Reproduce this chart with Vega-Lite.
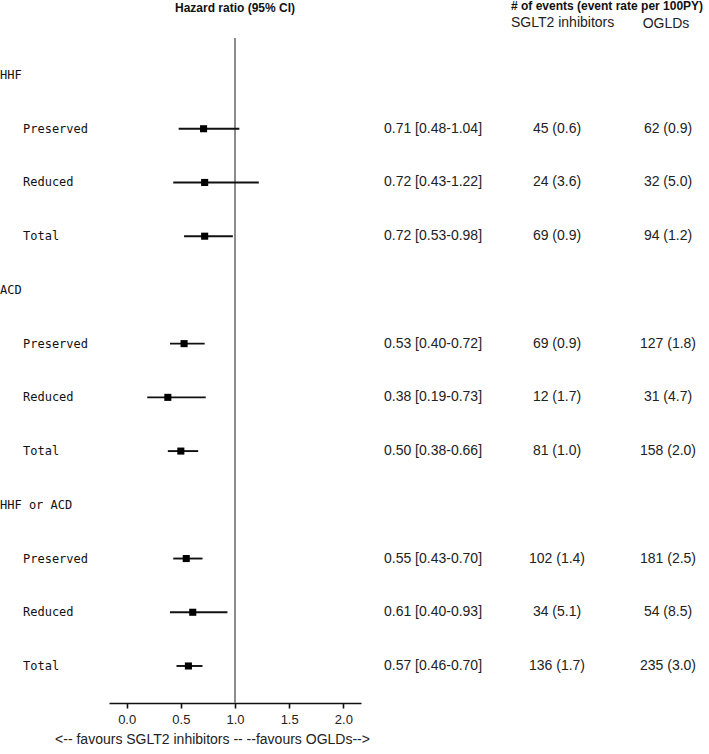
{
  "$schema": "https://vega.github.io/schema/vega-lite/v6.json",
  "background": "white",
  "padding": {"top": 0, "left": 0, "right": 0, "bottom": 2},
  "spacing": 0,
  "bounds": "flush",
  "config": {"view": {"stroke": null}, "font": "Liberation Sans"},
  "datasets": {
    "rows": [
      {"row": 0, "label": "HHF", "level": "group"},
      {"row": 1, "label": "Preserved", "level": "sub", "hr": 0.71, "lo": 0.48, "hi": 1.04, "ci": "0.71 [0.48-1.04]", "sglt2": "45 (0.6)", "ogld": "62 (0.9)"},
      {"row": 2, "label": "Reduced", "level": "sub", "hr": 0.72, "lo": 0.43, "hi": 1.22, "ci": "0.72 [0.43-1.22]", "sglt2": "24 (3.6)", "ogld": "32 (5.0)"},
      {"row": 3, "label": "Total", "level": "sub", "hr": 0.72, "lo": 0.53, "hi": 0.98, "ci": "0.72 [0.53-0.98]", "sglt2": "69 (0.9)", "ogld": "94 (1.2)"},
      {"row": 4, "label": "ACD", "level": "group"},
      {"row": 5, "label": "Preserved", "level": "sub", "hr": 0.53, "lo": 0.40, "hi": 0.72, "ci": "0.53 [0.40-0.72]", "sglt2": "69 (0.9)", "ogld": "127 (1.8)"},
      {"row": 6, "label": "Reduced", "level": "sub", "hr": 0.38, "lo": 0.19, "hi": 0.73, "ci": "0.38 [0.19-0.73]", "sglt2": "12 (1.7)", "ogld": "31 (4.7)"},
      {"row": 7, "label": "Total", "level": "sub", "hr": 0.50, "lo": 0.38, "hi": 0.66, "ci": "0.50 [0.38-0.66]", "sglt2": "81 (1.0)", "ogld": "158 (2.0)"},
      {"row": 8, "label": "HHF or ACD", "level": "group"},
      {"row": 9, "label": "Preserved", "level": "sub", "hr": 0.55, "lo": 0.43, "hi": 0.70, "ci": "0.55 [0.43-0.70]", "sglt2": "102 (1.4)", "ogld": "181 (2.5)"},
      {"row": 10, "label": "Reduced", "level": "sub", "hr": 0.61, "lo": 0.40, "hi": 0.93, "ci": "0.61 [0.40-0.93]", "sglt2": "34 (5.1)", "ogld": "54 (8.5)"},
      {"row": 11, "label": "Total", "level": "sub", "hr": 0.57, "lo": 0.46, "hi": 0.70, "ci": "0.57 [0.46-0.70]", "sglt2": "136 (1.7)", "ogld": "235 (3.0)"}
    ]
  },
  "hconcat": [
    {
      "width": 109,
      "height": 665,
      "data": {"name": "rows"},
      "mark": {"type": "text", "align": "left", "baseline": "middle", "font": "DejaVu Sans Mono", "fontSize": 12, "color": "#111"},
      "encoding": {
        "x": {"field": "level", "type": "nominal", "scale": {"type": "point", "domain": ["group", "sub"], "range": [0, 23], "padding": 0}, "axis": null},
        "y": {"field": "row", "type": "quantitative", "scale": {"domain": [-0.689, 11.689], "reverse": true, "nice": false, "zero": false}, "axis": null},
        "text": {"field": "label", "type": "nominal"}
      }
    },
    {
      "width": 252,
      "height": 665,
      "data": {"name": "rows"},
      "title": {"text": "Hazard ratio (95% CI)", "font": "Liberation Sans", "fontSize": 12, "fontWeight": "bold", "anchor": "middle", "offset": 22, "color": "#111"},
      "layer": [
        {
          "mark": {"type": "rule", "color": "#8c8c8c", "strokeWidth": 1.6},
          "encoding": {"x": {"datum": 1, "type": "quantitative"}}
        },
        {
          "transform": [{"filter": "datum.level == 'sub'"}],
          "mark": {"type": "rule", "color": "#111", "strokeWidth": 1.9},
          "encoding": {
            "x": {"field": "lo", "type": "quantitative"},
            "x2": {"field": "hi"},
            "y": {"field": "row", "type": "quantitative"}
          }
        },
        {
          "transform": [{"filter": "datum.level == 'sub'"}],
          "mark": {"type": "point", "shape": "square", "filled": true, "color": "#000", "size": 50, "opacity": 1},
          "encoding": {
            "x": {"field": "hr", "type": "quantitative"},
            "y": {"field": "row", "type": "quantitative"}
          }
        }
      ],
      "encoding": {
        "x": {
          "type": "quantitative",
          "scale": {"domain": [-0.163, 2.163], "nice": false, "zero": false},
          "axis": {
            "values": [0, 0.5, 1, 1.5, 2],
            "format": ".1f",
            "grid": false,
            "domainColor": "#111",
            "domainWidth": 1.6,
            "tickColor": "#111",
            "tickWidth": 1.6,
            "tickSize": 5,
            "labelFont": "Liberation Sans",
            "labelFontSize": 13,
            "labelColor": "#222",
            "labelPadding": 5,
            "labelFlush": false,
            "title": "<-- favours SGLT2 inhibitors -- --favours OGLDs-->",
            "titleFont": "Liberation Sans",
            "titleFontSize": 14,
            "titleFontWeight": "normal",
            "titleColor": "#222",
            "titleX": 103,
            "titlePadding": 6
          }
        },
        "y": {"type": "quantitative", "scale": {"domain": [-0.689, 11.689], "reverse": true, "nice": false, "zero": false}, "axis": null}
      }
    },
    {
      "width": 150,
      "height": 665,
      "data": {"name": "rows"},
      "transform": [{"filter": "datum.level == 'sub'"}],
      "mark": {"type": "text", "align": "center", "baseline": "middle", "font": "Liberation Sans", "fontSize": 14, "color": "#222", "dx": -3},
      "encoding": {
        "y": {"field": "row", "type": "quantitative", "scale": {"domain": [-0.689, 11.689], "reverse": true, "nice": false, "zero": false}, "axis": null},
        "text": {"field": "ci", "type": "nominal"}
      }
    },
    {
      "width": 92,
      "height": 665,
      "data": {"name": "rows"},
      "title": {"text": "# of events (event rate per 100PY)", "subtitle": "SGLT2 inhibitors", "anchor": "start", "font": "Liberation Sans", "fontSize": 12, "fontWeight": "bold", "color": "#111", "subtitleFont": "Liberation Sans", "subtitleFontSize": 14, "subtitleColor": "#222", "subtitlePadding": 3, "offset": 7},
      "transform": [{"filter": "datum.level == 'sub'"}],
      "mark": {"type": "text", "align": "center", "baseline": "middle", "font": "Liberation Sans", "fontSize": 14, "color": "#222"},
      "encoding": {
        "y": {"field": "row", "type": "quantitative", "scale": {"domain": [-0.689, 11.689], "reverse": true, "nice": false, "zero": false}, "axis": null},
        "text": {"field": "sglt2", "type": "nominal"}
      }
    },
    {
      "width": 106,
      "height": 665,
      "data": {"name": "rows"},
      "title": {"text": "OGLDs", "anchor": "middle", "font": "Liberation Sans", "fontSize": 14, "fontWeight": "normal", "color": "#222", "dx": 10, "offset": 7},
      "transform": [{"filter": "datum.level == 'sub'"}],
      "mark": {"type": "text", "align": "center", "baseline": "middle", "font": "Liberation Sans", "fontSize": 14, "color": "#222", "dx": 12},
      "encoding": {
        "y": {"field": "row", "type": "quantitative", "scale": {"domain": [-0.689, 11.689], "reverse": true, "nice": false, "zero": false}, "axis": null},
        "text": {"field": "ogld", "type": "nominal"}
      }
    }
  ]
}
